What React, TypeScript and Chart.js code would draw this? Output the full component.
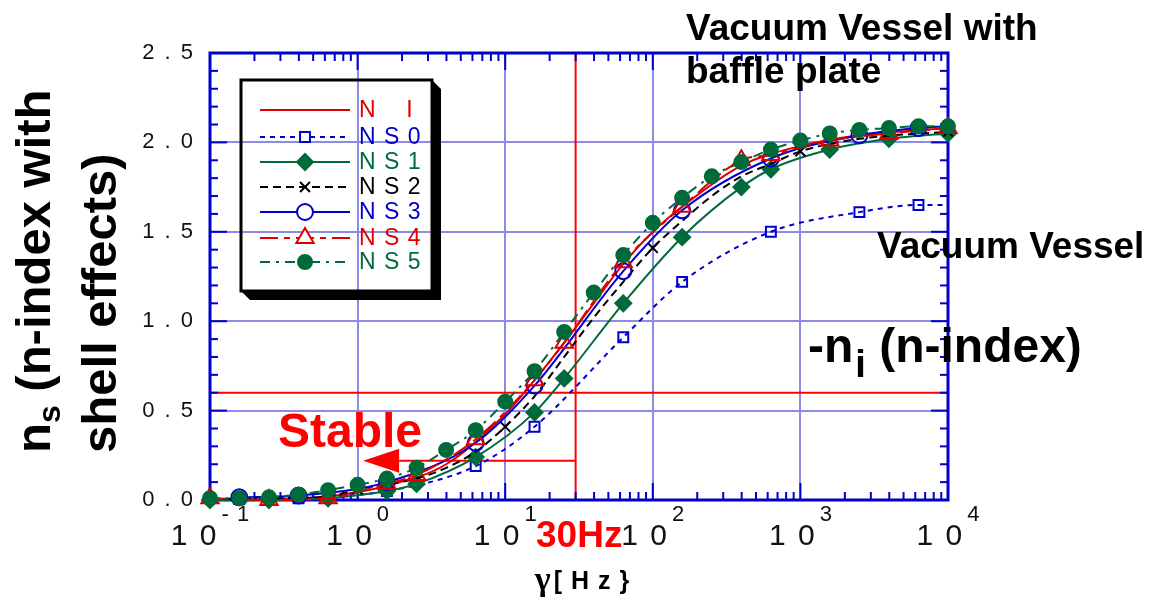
import React, { useEffect, useRef } from "react";
import { Chart, registerables } from "chart.js";
import { drawPoint } from "chart.js/helpers";

Chart.register(...registerables);

// ---------------- data (frequency in Hz, n-index) ----------------
const freqNI = [0.1, 0.251, 0.631, 1.58, 3.98, 10, 15.8, 25.1, 39.8, 63.1, 100, 158, 398, 1000, 2510, 10000];
const valNI = [0.0, 0.005, 0.02, 0.08, 0.2, 0.48, 0.67, 0.88, 1.1, 1.32, 1.5, 1.64, 1.87, 1.98, 2.04, 2.08];

const freqNS0 = [0.158, 0.398, 1.58, 6.31, 15.8, 63.1, 158, 631, 2510, 6310, 10000];
const valNS0 = [0.005, 0.01, 0.05, 0.19, 0.41, 0.91, 1.22, 1.5, 1.61, 1.65, 1.65];

const freqNS1 = [0.1, 0.251, 0.631, 1.58, 2.51, 6.31, 15.8, 25.1, 63.1, 158, 398, 631, 1580, 3980, 10000];
const valNS1 = [0.0, 0.0, 0.01, 0.05, 0.09, 0.24, 0.49, 0.68, 1.1, 1.47, 1.75, 1.85, 1.96, 2.02, 2.05];

const freqNS2 = [0.1, 0.251, 0.631, 1, 2.51, 3.98, 6.31, 10, 15.8, 25.1, 39.8, 63.1, 100, 158, 251, 398, 631, 1000, 2510, 10000];
const valNS2 = [0.005, 0.01, 0.02, 0.06, 0.12, 0.18, 0.27, 0.41, 0.58, 0.8, 1.02, 1.22, 1.41, 1.56, 1.7, 1.81, 1.88, 1.95, 2.02, 2.06];
const markNS2 = [0.1, 1, 10, 100, 1000, 10000];

const freqNS3 = [0.158, 0.398, 1.58, 6.31, 15.8, 63.1, 158, 631, 2510, 6310, 10000];
const valNS3 = [0.015, 0.025, 0.1, 0.32, 0.64, 1.28, 1.62, 1.91, 2.04, 2.08, 2.09];

const freqNS4 = [0.1, 0.251, 0.631, 1.58, 2.51, 6.31, 15.8, 25.1, 63.1, 158, 398, 631, 1580, 3980, 10000];
const valNS4 = [0.01, 0.0, 0.01, 0.09, 0.14, 0.34, 0.67, 0.88, 1.33, 1.64, 1.9, 1.93, 2.01, 2.05, 2.08];

const freqNS5 = [0.1, 0.158, 0.251, 0.398, 0.631, 1, 1.58, 2.51, 3.98, 6.31, 10, 15.8, 25.1, 39.8, 63.1, 100, 158, 251, 398, 631, 1000, 1580, 2510, 3980, 6310, 10000];
const valNS5 = [0.01, 0.01, 0.015, 0.03, 0.055, 0.085, 0.12, 0.18, 0.28, 0.39, 0.55, 0.72, 0.94, 1.16, 1.37, 1.55, 1.69, 1.81, 1.89, 1.96, 2.01, 2.05, 2.07, 2.08, 2.09, 2.09];

// reference markers
const refFreq = [30];
const refIndex = [0.6];
const arrowLevel = [0.22];
const arrowTipFreq = [1.09];

// tick labels
const xTickValues = [0.1, 1, 10, 100, 1000, 10000];
const xTickBase = ["1 0", "1 0", "1 0", "1 0", "1 0", "1 0"];
const xTickExp = ["- 1", "0", "1", "2", "3", "4"];
const yTickValues = [0, 0.5, 1, 1.5, 2, 2.5];
const yTickLabels = ["0 . 0", "0 . 5", "1 . 0", "1 . 5", "2 . 0", "2 . 5"];

const legendNames = ["N    I", "N S 0", "N S 1", "N S 2", "N S 3", "N S 4", "N S 5"];

// ---------------- styling ----------------
const FONT = '"Liberation Sans", Arial, Helvetica, sans-serif';
const SERIF = '"Liberation Serif", "DejaVu Serif", serif';
const AXIS = "#0000cc";
const GRID = "#8c8ce8";
const REF = "#ff0000";
const cRed = "#dd0000";
const cBlue = "#0000cc";
const cGreen = "#006b3a";
const cBlack = "#000000";
const NONE = "rgba(0,0,0,0)";

type SeriesStyle = {
  color: string;
  dash: number[];
  pointStyle: any;
  radius: number;
  filled: boolean;
};

const styles: SeriesStyle[] = [
  { color: cRed, dash: [], pointStyle: false, radius: 0, filled: false },
  { color: cBlue, dash: [5, 5], pointStyle: "rect", radius: 7, filled: false },
  { color: cGreen, dash: [], pointStyle: "rectRot", radius: 8, filled: true },
  { color: cBlack, dash: [8, 5], pointStyle: "crossRot", radius: 7, filled: false },
  { color: cBlue, dash: [], pointStyle: "circle", radius: 8, filled: false },
  { color: cRed, dash: [18, 6, 6, 6], pointStyle: "triangle", radius: 10, filled: false },
  { color: cGreen, dash: [10, 6, 3, 6], pointStyle: "circle", radius: 7, filled: true },
];
const legendTextColors = [cRed, cBlue, cGreen, cBlack, cBlue, cRed, cGreen];

function makeDataset(idx: number, fx: number[], vy: number[], radii: number[] | null) {
  const s = styles[idx];
  return {
    label: legendNames[idx],
    data: fx.map((f, i) => ({ x: f, y: vy[i] })),
    borderColor: s.color,
    borderWidth: 2,
    borderDash: s.dash,
    pointStyle: s.pointStyle,
    pointRadius: radii ?? s.radius,
    pointBorderWidth: 2,
    pointBorderColor: s.color,
    pointBackgroundColor: s.filled ? s.color : NONE,
    pointHoverRadius: radii ?? s.radius,
    cubicInterpolationMode: "monotone" as const,
    fill: false,
    clip: false as any,
    order: 6 - idx,
  };
}

function line(ctx: CanvasRenderingContext2D, x1: number, y1: number, x2: number, y2: number) {
  ctx.beginPath();
  ctx.moveTo(x1, y1);
  ctx.lineTo(x2, y2);
  ctx.stroke();
}

// draw text with extra letter spacing; align: 'left' | 'right' | 'center'
function spaced(ctx: CanvasRenderingContext2D, text: string, x: number, y: number, sp: number, align: string) {
  const chars = Array.from(text);
  const widths = chars.map((c) => ctx.measureText(c).width);
  const total = widths.reduce((a, b) => a + b, 0) + sp * (chars.length - 1);
  let cx = align === "right" ? x - total : align === "center" ? x - total / 2 : x;
  const prev = ctx.textAlign;
  ctx.textAlign = "left";
  chars.forEach((c, i) => {
    ctx.fillText(c, cx, y);
    cx += widths[i] + sp;
  });
  ctx.textAlign = prev;
  return total;
}
function spacedWidth(ctx: CanvasRenderingContext2D, text: string, sp: number) {
  const chars = Array.from(text);
  return chars.reduce((a, c) => a + ctx.measureText(c).width, 0) + sp * (chars.length - 1);
}

const overlayPlugin = {
  id: "overlay",
  beforeDatasetsDraw(chart: any) {
    const { ctx, chartArea: a } = chart;
    const xs = chart.scales.x;
    const ys = chart.scales.y;
    ctx.save();
    // reference lines
    ctx.strokeStyle = REF;
    ctx.lineWidth = 2;
    const x30 = xs.getPixelForValue(refFreq[0]);
    line(ctx, x30, a.top, x30, a.bottom);
    const y06 = ys.getPixelForValue(refIndex[0]);
    line(ctx, a.left, y06, a.right, y06);
    // stable arrow
    const ya = ys.getPixelForValue(arrowLevel[0]);
    const xt = xs.getPixelForValue(arrowTipFreq[0]);
    const headLen = 36;
    const headHalf = 12;
    line(ctx, x30, ya, xt + headLen, ya);
    ctx.fillStyle = REF;
    ctx.beginPath();
    ctx.moveTo(xt, ya);
    ctx.lineTo(xt + headLen, ya - headHalf);
    ctx.lineTo(xt + headLen, ya + headHalf);
    ctx.closePath();
    ctx.fill();

    // frame
    ctx.strokeStyle = AXIS;
    ctx.lineWidth = 3;
    ctx.strokeRect(a.left, a.top, a.right - a.left, a.bottom - a.top);
    // ticks
    ctx.lineWidth = 2;
    for (let e = -1; e <= 4; e++) {
      for (let k = 1; k <= 9; k++) {
        if (e === 4 && k > 1) break;
        const v = k * Math.pow(10, e);
        const px = xs.getPixelForValue(v);
        const len = k === 1 ? 17 : 8;
        line(ctx, px, a.bottom, px, a.bottom - len);
        line(ctx, px, a.top, px, a.top + len);
      }
    }
    for (let i = 0; i <= 25; i++) {
      const py = ys.getPixelForValue(i / 10);
      const len = i % 5 === 0 ? 17 : 8;
      line(ctx, a.left, py, a.left + len, py);
      line(ctx, a.right, py, a.right - len, py);
    }
    ctx.restore();
  },
  afterDraw(chart: any) {
    const { ctx, chartArea: a } = chart;
    const xs = chart.scales.x;
    const ys = chart.scales.y;
    ctx.save();

    // y tick labels
    ctx.fillStyle = "#111";
    ctx.font = `22px ${FONT}`;
    ctx.textBaseline = "middle";
    yTickValues.forEach((v, i) => {
      spaced(ctx, yTickLabels[i], a.left - 17, ys.getPixelForValue(v), 2, "right");
    });

    // x tick labels with exponents
    ctx.textBaseline = "alphabetic";
    ctx.textAlign = "left";
    xTickValues.forEach((v, i) => {
      const px = xs.getPixelForValue(v);
      ctx.font = `30px ${FONT}`;
      const w1 = spacedWidth(ctx, xTickBase[i], 2);
      ctx.font = `22px ${FONT}`;
      const w2 = spacedWidth(ctx, xTickExp[i], 1);
      const start = px - (w1 + 5 + w2) / 2;
      ctx.font = `30px ${FONT}`;
      spaced(ctx, xTickBase[i], start, 545, 2, "left");
      ctx.font = `22px ${FONT}`;
      spaced(ctx, xTickExp[i], start + w1 + 5, 521, 1, "left");
    });

    // 30Hz label
    ctx.fillStyle = REF;
    ctx.font = `bold 37px ${FONT}`;
    ctx.fillText("30Hz", 536, 547);

    // x axis title
    ctx.fillStyle = "#000";
    ctx.font = `bold 34px ${SERIF}`;
    const gw = ctx.measureText("γ").width;
    ctx.font = `bold 25px ${FONT}`;
    const tw = spacedWidth(ctx, "[ H z }", 1);
    const tx0 = 582 - (gw + 3 + tw) / 2;
    ctx.font = `bold 34px ${SERIF}`;
    ctx.fillText("γ", tx0, 590);
    ctx.font = `bold 25px ${FONT}`;
    spaced(ctx, "[ H z }", tx0 + gw + 3, 589, 1, "left");

    // y axis title (rotated)
    ctx.save();
    ctx.translate(50, 453);
    ctx.rotate(-Math.PI / 2);
    ctx.textAlign = "left";
    ctx.textBaseline = "alphabetic";
    ctx.font = `bold 49px ${FONT}`;
    ctx.fillText("n", 0, 0);
    let off = ctx.measureText("n").width;
    ctx.font = `bold 32px ${FONT}`;
    ctx.fillText("s", off, 10);
    off += ctx.measureText("s").width;
    ctx.font = `bold 49px ${FONT}`;
    ctx.fillText(" (n-index with", off, 0);
    ctx.restore();
    ctx.save();
    ctx.translate(116, 453);
    ctx.rotate(-Math.PI / 2);
    ctx.font = `bold 49px ${FONT}`;
    ctx.fillText("shell effects)", 0, 0);
    ctx.restore();

    // annotations
    ctx.fillStyle = "#000";
    ctx.textAlign = "left";
    ctx.font = `bold 37px ${FONT}`;
    ctx.fillText("Vacuum Vessel with", 686, 40);
    ctx.fillText("baffle plate", 686, 83);
    ctx.fillText("Vacuum Vessel", 877, 258);
    ctx.font = `bold 48px ${FONT}`;
    ctx.fillText("-n", 808, 362);
    let nx = 808 + ctx.measureText("-n").width + 2;
    ctx.font = `bold 38px ${FONT}`;
    ctx.fillText("i", nx, 377);
    nx += ctx.measureText("i").width;
    ctx.font = `bold 48px ${FONT}`;
    ctx.fillText(" (n-index)", nx, 362);

    ctx.fillStyle = REF;
    ctx.font = `bold 48px ${FONT}`;
    ctx.fillText("Stable", 278, 447);

    // legend box with shadow
    const L = 241, T = 80, R = 432, B = 291, d = 9;
    ctx.fillStyle = "#000";
    ctx.beginPath();
    ctx.moveTo(R, T);
    ctx.lineTo(R + d, T + d);
    ctx.lineTo(R + d, B + d);
    ctx.lineTo(L + d, B + d);
    ctx.lineTo(L, B);
    ctx.lineTo(R, B);
    ctx.closePath();
    ctx.fill();
    ctx.strokeStyle = "#000";
    ctx.lineWidth = 3;
    ctx.strokeRect(L, T, R - L, B - T);

    const rowY = [110, 137, 162, 187, 212, 238, 262];
    styles.forEach((s, i) => {
      const y = rowY[i];
      ctx.strokeStyle = s.color;
      ctx.lineWidth = 2;
      ctx.setLineDash(s.dash);
      line(ctx, 260, y, 350, y);
      ctx.setLineDash([]);
      if (s.pointStyle) {
        ctx.fillStyle = s.filled ? s.color : "#fff";
        ctx.strokeStyle = s.color;
        ctx.lineWidth = 2;
        drawPoint(ctx, { pointStyle: s.pointStyle, radius: s.radius, rotation: 0, borderWidth: 2 } as any, 305, y);
      }
      ctx.fillStyle = legendTextColors[i];
      ctx.font = `23px ${FONT}`;
      ctx.textBaseline = "middle";
      spaced(ctx, legendNames[i], 359, y + 1, 1, "left");
      ctx.textBaseline = "alphabetic";
    });

    ctx.restore();
  },
};

function isDecade(v: number) {
  if (!v || v <= 0) return false;
  const l = Math.log10(v);
  return Math.abs(l - Math.round(l)) < 1e-6;
}

export default function App() {
  const ref = useRef<HTMLCanvasElement>(null);
  useEffect(() => {
    if (!ref.current) return;
    const ns2Radii = freqNS2.map((f) => (markNS2.includes(f) ? styles[3].radius : 0));
    const ns0Radii = freqNS0.map((f, i) => (i === freqNS0.length - 1 ? 0 : styles[1].radius));
    const ns3Radii = freqNS3.map((f, i) => (i === freqNS3.length - 1 ? 0 : styles[4].radius));
    const chart = new Chart(ref.current, {
      type: "line",
      data: {
        datasets: [
          makeDataset(0, freqNI, valNI, null),
          makeDataset(1, freqNS0, valNS0, ns0Radii),
          makeDataset(2, freqNS1, valNS1, null),
          makeDataset(3, freqNS2, valNS2, ns2Radii),
          makeDataset(4, freqNS3, valNS3, ns3Radii),
          makeDataset(5, freqNS4, valNS4, null),
          makeDataset(6, freqNS5, valNS5, null),
        ] as any,
      },
      options: {
        responsive: false,
        devicePixelRatio: 1,
        animation: false,
        events: [],
        layout: { padding: { top: 53, right: 221, left: 0, bottom: 0 } },
        plugins: { legend: { display: false }, tooltip: { enabled: false } },
        scales: {
          x: {
            type: "logarithmic",
            min: 0.1,
            max: 10000,
            ticks: { display: false },
            grid: {
              drawTicks: false,
              lineWidth: 2,
              color: (c: any) => (c.tick && isDecade(c.tick.value) ? GRID : NONE),
            },
            border: { display: false },
            afterFit: (s: any) => {
              s.height = 112;
            },
          },
          y: {
            type: "linear",
            min: 0,
            max: 2.5,
            ticks: { display: false, stepSize: 0.5 },
            grid: { drawTicks: false, lineWidth: 2, color: GRID },
            border: { display: false },
            afterFit: (s: any) => {
              s.width = 210;
            },
          },
        },
      } as any,
      plugins: [overlayPlugin],
    });
    return () => chart.destroy();
  }, []);
  return (
    <div style={{ position: "fixed", left: 0, top: 0, width: 1169, height: 612, background: "#fff" }}>
      <canvas ref={ref} width={1169} height={612} style={{ display: "block" }} />
    </div>
  );
}
